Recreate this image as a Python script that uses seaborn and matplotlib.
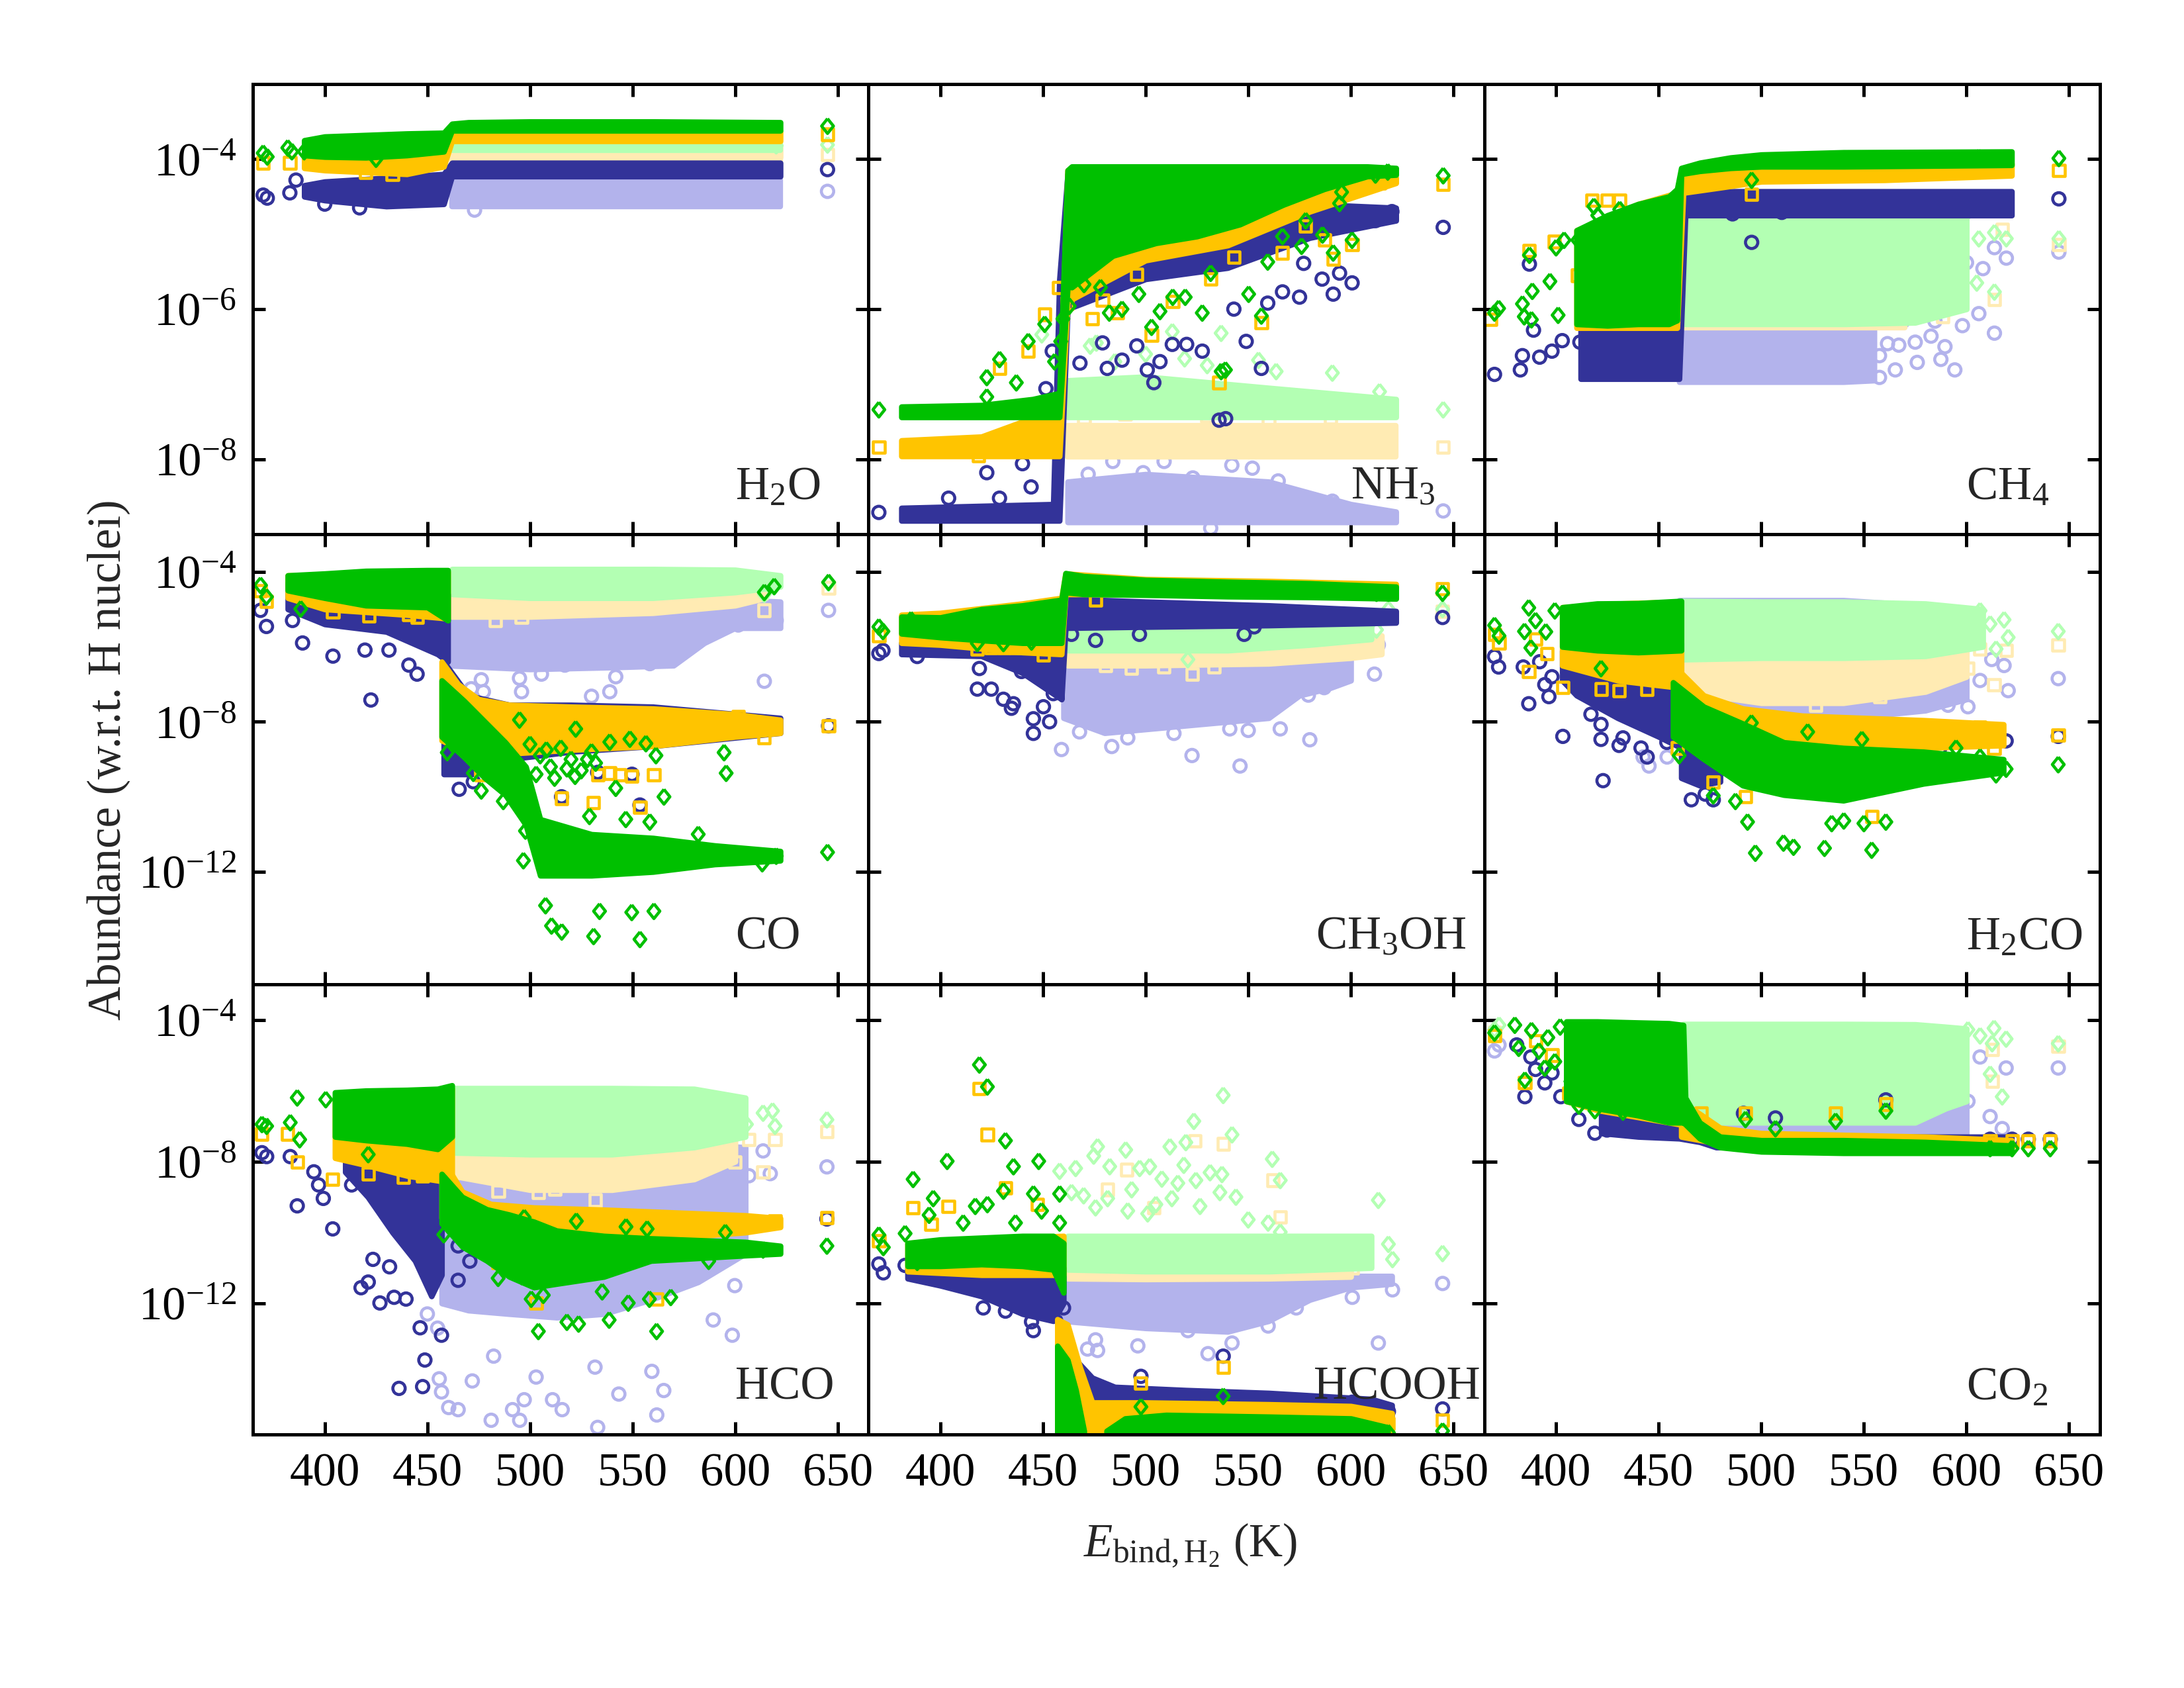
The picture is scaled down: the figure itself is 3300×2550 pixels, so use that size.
import numpy as np
import matplotlib
matplotlib.use("Agg")
import matplotlib.pyplot as plt
import matplotlib.transforms as mtransforms
from matplotlib.ticker import FixedLocator, NullLocator, FuncFormatter
import seaborn as sns

# all abundances below are log10(abundance), x is E_bind,H2 in K
# series keys: db dark-blue circles, lb light-blue circles, or orange squares,
# lo light-orange squares, gr green diamonds, lg light-green diamonds

h2o_bands = [
    ("lb", [462, 622], [-4.63, -4.63], [-4.28, -4.28]),
    ("lo", [462, 622], [-4.02, -4.02], [-3.88, -3.88]),
    ("lg", [462, 622], [-3.88, -3.88], [-3.76, -3.76]),
    ("db", [390, 400, 430, 458, 462, 622], [-4.5, -4.55, -4.63, -4.6, -4.23, -4.23], [-4.35, -4.3, -4.25, -4.2, -4.05, -4.05]),
    ("or", [390, 400, 440, 458, 462, 622], [-4.12, -4.15, -4.2, -4.1, -3.76, -3.76], [-3.9, -3.85, -3.8, -3.75, -3.63, -3.63]),
    ("gr", [390, 400, 420, 440, 458, 462, 470, 500, 560, 622], [-3.95, -3.97, -3.98, -3.95, -3.9, -3.62, -3.62, -3.62, -3.62, -3.62],
     [-3.75, -3.7, -3.68, -3.66, -3.65, -3.53, -3.51, -3.5, -3.5, -3.51]),
]
h2o_pts = {
    "db": ([370, 372, 383, 386, 400, 417, 645], [-4.48, -4.52, -4.45, -4.28, -4.6, -4.65, -4.14]),
    "lb": ([610, 618, 600, 473, 645], [-4.2, -4.35, -4.22, -4.68, -4.43]),
    "lo": ([620, 645], [-3.9, -3.94]),
    "lg": ([620, 645], [-3.82, -3.81]),
    "or": ([370, 383, 420, 433, 645], [-4.05, -4.05, -4.18, -4.2, -3.67]),
    "gr": ([370, 372, 382, 384, 390, 425, 645], [-3.92, -3.97, -3.85, -3.9, -3.9, -4.0, -3.56]),
}

nh3_bands = [
    ("lb", [462, 500, 560, 600, 622], [-8.84] * 5, [-8.3, -8.2, -8.3, -8.6, -8.7]),
    ("lo", [462, 622], [-7.97, -7.97], [-7.55, -7.55]),
    ("lg", [462, 500, 560, 622], [-7.44] * 4, [-6.95, -6.9, -7.05, -7.2]),
    ("db", [381, 455, 458, 462, 500, 540, 580, 622], [-8.82, -8.82, -8.82, -6.0, -5.6, -5.45, -5.05, -4.82],
     [-8.65, -8.6, -5.6, -4.2, -4.2, -4.3, -4.6, -4.65]),
    ("or", [381, 420, 440, 458, 462, 500, 540, 580, 622], [-7.96, -7.96, -7.96, -7.96, -5.9, -5.35, -5.15, -4.7, -4.32],
     [-7.75, -7.7, -7.5, -7.4, -4.15, -4.15, -4.15, -4.2, -4.25]),
    ("gr", [381, 420, 445, 458, 462, 464, 484, 505, 525, 546, 567, 587, 608, 622],
     [-7.44, -7.44, -7.44, -7.44, -5.7, -5.71, -5.29, -5.12, -5.03, -4.87, -4.61, -4.4, -4.23, -4.21],
     [-7.3, -7.28, -7.2, -7.12, -4.15, -4.1, -4.1, -4.1, -4.1, -4.1, -4.1, -4.1, -4.1, -4.12]),
]
nh3_pts = {
    "gr": ([370, 422.6, 422.6, 428.8, 437, 442.8, 450.8, 455.6, 458.6, 459.7, 462.8, 470, 478, 482.3, 488.5, 496.7, 502.9, 507,
            513.2, 519.3, 527.6, 531.7, 536.8, 538.9, 550.2, 556.4, 559.5, 566.7, 576, 578, 586.2, 591.4, 594.5, 595.5, 600.6,
            612, 618, 645],
           [-7.34, -7.17, -6.91, -6.67, -6.98, -6.43, -6.2, -6.7, -6.43, -6.13, -5.96, -5.67, -5.71, -6.05, -6.0, -5.8, -6.24,
            -6.03, -5.84, -5.84, -6.05, -5.52, -6.83, -6.81, -5.8, -6.09, -5.37, -5.03, -5.16, -4.82, -5.01, -5.25, -4.59,
            -4.44, -5.08, -4.21, -4.17, -4.22]),
    "or": ([370, 418.5, 428.8, 442.8, 450.8, 457.6, 461.7, 474, 479, 486.4, 495.7, 502.9, 513.2, 531.7, 535.8, 543, 556.4,
            566.7, 578, 587.2, 591.4, 600.6, 614, 645],
           [-7.84, -7.95, -6.79, -6.56, -6.07, -5.71, -5.92, -6.13, -5.88, -6.05, -5.54, -6.35, -5.9, -5.6, -6.98, -5.31,
            -6.18, -5.25, -4.89, -5.08, -5.33, -5.14, -4.32, -4.34]),
    "db": ([370, 404, 422.6, 428.8, 440, 444.2, 451.4, 454.5, 468, 479, 481.3, 488.5, 495.7, 500.8, 504, 507, 513, 520, 527.6,
            535.8, 539, 543, 549, 556.4, 559.5, 566.7, 575, 577, 586, 591.4, 594.5, 600.6, 612, 620, 645],
           [-8.71, -8.52, -8.18, -8.52, -8.06, -8.37, -7.06, -6.56, -6.72, -6.45, -6.79, -6.68, -6.49, -6.81, -6.98, -6.7,
            -6.47, -6.47, -6.56, -7.48, -7.46, -6.0, -6.43, -6.79, -5.92, -5.77, -5.84, -5.39, -5.6, -5.8, -5.52, -5.65,
            -4.82, -4.7, -4.91]),
    "lg": ([449.4, 473, 476, 513, 519, 536.8, 555, 563.6, 591, 614, 645, 485, 500, 530],
           [-6.34, -6.49, -6.45, -6.3, -6.66, -6.32, -6.68, -6.83, -6.85, -7.1, -7.34, -6.7, -6.6, -6.75]),
    "lo": ([645, 470, 490, 530, 560, 590], [-7.84, -7.45, -7.4, -7.42, -7.5, -7.45]),
    "lb": ([472, 484, 498.8, 509, 523, 531.7, 542, 552, 564.6, 582, 591, 645],
           [-8.2, -8.03, -8.18, -8.03, -8.25, -8.92, -8.08, -8.12, -8.29, -8.54, -8.56, -8.69]),
}

ch4_bands = [
    ("lb", [460, 500, 540, 555], [-6.97, -6.97, -6.97, -6.95], [-6.22] * 4),
    ("lo", [462, 570], [-6.25, -6.25], [-4.75, -4.75]),
    ("lg", [462, 500, 540, 575, 600], [-6.2, -6.2, -6.2, -6.18, -6.0], [-4.72, -4.72, -4.72, -4.72, -4.8]),
    ("db", [412, 440, 457, 460, 463, 622], [-6.93, -6.93, -6.93, -6.93, -4.75, -4.75], [-6.2, -6.2, -6.2, -4.5, -4.43, -4.43]),
    ("or", [410, 440, 459, 462, 480, 500, 560, 622], [-6.25, -6.25, -6.25, -4.45, -4.38, -4.3, -4.28, -4.22],
     [-4.95, -4.6, -4.45, -4.2, -4.12, -4.1, -4.08, -4.06]),
    ("gr", [410, 425, 440, 455, 459, 461, 470, 485, 500, 540, 622],
     [-6.2, -6.22, -6.2, -6.2, -6.15, -4.2, -4.16, -4.12, -4.1, -4.1, -4.08],
     [-4.95, -4.75, -4.6, -4.5, -4.4, -4.12, -4.05, -3.98, -3.94, -3.91, -3.9]),
]
ch4_pts = {
    "gr": ([370, 372, 383.6, 387, 388.4, 384.5, 397, 400, 403.9, 410.6, 415.5, 418.4, 420.3, 431, 388, 401, 495.3, 606,
            619.4, 645],
           [-6.05, -5.99, -5.93, -5.28, -5.76, -6.1, -5.63, -5.18, -5.08, -5.08, -5.0, -4.63, -4.75, -4.67, -6.14, -6.08,
            -4.28, -3.98, -3.99, -3.99]),
    "or": ([368, 387, 399, 417.4, 425, 431, 410.6, 495.3, 645], [-6.14, -5.22, -5.1, -4.55, -4.55, -4.55, -5.55, -4.47, -4.15]),
    "db": ([370, 382.6, 383.6, 389, 392, 398, 403, 411.6, 387, 495.3, 486, 510, 645, 619.4],
           [-6.87, -6.81, -6.62, -6.28, -6.64, -6.56, -6.42, -6.44, -5.4, -5.11, -4.73, -4.71, -4.53, -4.51]),
    "lg": ([613.6, 619.4, 606, 605, 613.6, 596, 588.5, 611.7, 601, 645, 569, 577],
           [-4.98, -5.06, -5.06, -5.65, -5.77, -5.69, -5.97, -4.67, -4.69, -5.06, -5.85, -6.08]),
    "lo": ([613.6, 617.5, 588.5, 645], [-5.87, -4.94, -6.1, -5.14]),
    "lb": ([557.6, 561.5, 565.3, 575, 576, 584.6, 589.5, 587.5, 594.3, 598, 606, 613.6, 613.6, 619.4, 645, 557.6, 567, 582.7,
            569, 573, 600, 608],
           [-6.62, -6.46, -6.81, -6.44, -6.71, -6.16, -6.5, -6.67, -6.81, -6.22, -6.06, -6.32, -5.18, -5.32, -5.24, -6.91,
            -6.48, -6.36, -6.16, -5.97, -5.38, -5.46]),
}

co_bands = [
    ("lb", [460, 500, 540, 570, 585, 600, 622], [-6.5, -6.6, -6.55, -6.5, -5.9, -5.5, -5.5], [-4.9, -5.0, -5.0, -4.9, -4.8, -4.75, -4.8]),
    ("lo", [462, 500, 560, 600, 615], [-5.2, -5.2, -5.1, -4.9, -4.7], [-4.6, -4.7, -4.7, -4.55, -4.4]),
    ("lg", [462, 500, 560, 600, 622], [-4.6, -4.7, -4.7, -4.55, -4.4], [-3.93, -3.93, -3.93, -3.95, -4.1]),
    ("db", [382, 400, 430, 455, 460], [-5.0, -5.4, -5.6, -6.2, -6.4], [-4.3, -4.4, -4.5, -4.6, -4.6]),
    ("db", [458, 470, 490, 520, 560, 622], [-9.4, -9.4, -9.0, -8.8, -8.65, -8.3], [-6.4, -7.3, -7.55, -7.55, -7.6, -7.9]),
    ("or", [382, 400, 440, 460], [-4.7, -5.0, -5.15, -5.25], [-4.1, -4.1, -4.0, -4.0]),
    ("or", [457, 465, 475, 490, 520, 560, 600, 622], [-8.5, -8.7, -8.8, -8.85, -8.75, -8.65, -8.4, -8.3],
     [-6.4, -7.0, -7.4, -7.55, -7.6, -7.65, -7.8, -7.95]),
    ("gr", [382, 400, 420, 450, 460], [-4.5, -4.7, -4.9, -4.95, -5.3], [-4.1, -4.05, -3.98, -3.96, -3.96]),
    ("gr", [457, 468, 478, 488, 498, 505, 530, 560, 590, 622], [-8.4, -8.95, -9.5, -9.95, -10.75, -12.1, -12.1, -12.0, -11.8, -11.7],
     [-6.9, -7.45, -8.0, -8.55, -9.2, -10.6, -11.0, -11.1, -11.3, -11.45]),
]
co_pts = {
    "gr": ([368.7, 371.6, 388.3, 494.9, 459.7, 472.4, 476.3, 487, 497.8, 496.8, 522.3, 538.9, 548.7, 556.5, 561.4, 541.8, 565.3,
            594.6, 595.6, 510.5, 515.5, 531, 553.6, 507.6, 533.9, 549.6, 560.4, 529, 546.7, 558.4, 582, 613.2, 620, 645,
            645.5, 619, 614.2, 500, 505, 510, 515, 520, 525, 530, 503, 512, 522, 532, 508, 518, 528],
           [-4.36, -4.67, -4.99, -7.95, -8.82, -9.37, -9.84, -10.12, -10.91, -11.7, -8.19, -8.54, -8.46, -8.58, -8.9, -9.77,
            -10.0, -8.82, -9.37, -13.44, -13.6, -13.72, -13.8, -12.9, -13.05, -13.08, -13.05, -10.52, -10.6, -10.67, -11.0,
            -11.78, -11.58, -11.48, -4.28, -4.39, -4.55, -8.6, -8.9, -9.2, -8.7, -9.0, -9.3, -8.8, -9.4, -9.5, -9.45, -9.1,
            -8.75, -9.25, -9.0]),
    "or": ([368.7, 404, 421.5, 441, 445, 371.6, 645.5, 614.2, 601.5, 533, 538.9, 543.8, 549.7, 560.4, 515.4, 531, 553.6, 476, 494],
           [-4.51, -5.07, -5.18, -5.15, -5.22, -4.79, -8.11, -8.42, -7.87, -9.41, -9.37, -9.41, -9.45, -9.41, -10.04, -10.16,
            -10.28, -9.41, -9.8]),
    "db": ([368.7, 371.6, 389.2, 404, 422.5, 419.6, 431.3, 441, 445, 384.3, 465.5, 472.4, 645.5, 533, 549.7, 515.4, 553.6],
           [-5.03, -5.46, -5.9, -6.25, -7.42, -6.09, -6.09, -6.49, -6.73, -5.3, -9.8, -9.6, -8.11, -9.35, -9.4, -10.0, -10.22]),
    "lg": ([645.5, 619, 614.2], [-4.3, -4.4, -4.6]),
    "lo": ([483.1, 495.9, 614.2, 645.5], [-5.3, -5.22, -5.03, -4.43]),
    "lb": ([471.4, 476.3, 477.3, 495.9, 530, 538.9, 541.8, 494.9, 614.2, 645.5, 620, 601.5, 572, 517, 505.6, 558.4],
           [-7.12, -6.88, -7.2, -7.2, -7.32, -7.2, -6.8, -6.84, -6.92, -5.03, -5.3, -5.42, -5.86, -6.49, -6.73, -6.45]),
}

ch3oh_bands = [
    ("lb", [460, 480, 500, 540, 560, 575, 590, 600], [-7.9, -8.3, -8.2, -8.0, -7.9, -7.3, -7.1, -6.9],
     [-6.2, -6.2, -6.2, -6.2, -6.1, -6.0, -5.9, -5.85]),
    ("lo", [462, 500, 560, 600, 615], [-6.5, -6.5, -6.45, -6.3, -6.2], [-5.9, -5.9, -5.9, -5.8, -5.7]),
    ("lg", [462, 500, 540, 580, 610], [-6.1, -6.1, -6.1, -5.95, -5.8], [-5.45, -5.45, -5.45, -5.4, -5.35]),
    ("db", [381, 420, 440, 459], [-6.2, -6.25, -6.7, -7.4], [-5.9, -5.9, -5.9, -5.85]),
    ("db", [459, 461, 500, 560, 622], [-7.4, -5.5, -5.47, -5.43, -5.36], [-5.0, -4.72, -4.8, -4.9, -5.05]),
    ("or", [381, 400, 440, 459, 461, 500, 560, 622], [-5.9, -5.95, -6.15, -6.2, -4.6, -4.6, -4.65, -4.7],
     [-5.15, -5.1, -4.85, -4.7, -4.05, -4.2, -4.25, -4.33]),
    ("gr", [381, 400, 420, 440, 459, 461, 470, 500, 540, 580, 622],
     [-5.65, -5.75, -5.83, -5.9, -5.9, -4.55, -4.6, -4.62, -4.66, -4.68, -4.72],
     [-5.2, -5.22, -5.0, -4.9, -4.75, -4.04, -4.12, -4.22, -4.27, -4.31, -4.4]),
]
ch3oh_pts = {
    "gr": ([370, 372, 385.7, 418, 430.7, 444.4, 644.7, 612.5, 618.3], [-5.47, -5.59, -5.28, -5.91, -5.91, -5.87, -4.57, -4.57, -4.57]),
    "or": ([370, 418, 424.8, 430.7, 436.5, 450.2, 644.7, 475.6], [-5.71, -6.06, -6.02, -6.02, -6.02, -6.22, -4.45, -4.76]),
    "db": ([370, 372, 388.7, 419, 418, 424.8, 430.7, 435.6, 434.6, 439.5, 445.3, 445.3, 450.2, 453.2, 455, 475.6, 497, 548,
            552.9, 644.7, 463.9],
           [-6.18, -6.1, -6.26, -6.58, -7.13, -7.13, -7.4, -7.52, -7.64, -6.66, -7.92, -8.31, -7.6, -8.0, -7.25, -5.83, -5.67,
            -5.67, -5.47, -5.22, -5.67]),
    "lg": ([618.3, 612.5, 520.6, 644.7], [-5.0, -5.55, -6.34, -5.0]),
    "lo": ([480.5, 493, 508.9, 522.6, 533.3, 612.5, 644.7], [-6.5, -6.58, -6.54, -6.73, -6.54, -5.87, -5.05]),
    "lb": ([459, 483.5, 522.6, 546, 580, 565.6, 550, 541, 579.3, 587, 592, 611.5, 613.4, 467.8, 491.3, 513.8],
           [-8.74, -8.66, -8.9, -9.18, -8.48, -8.19, -8.23, -8.19, -7.29, -7.09, -6.66, -6.73, -5.95, -8.27, -8.43, -8.31]),
}

h2co_bands = [
    ("lb", [460, 500, 540, 580, 600], [-8.0, -7.95, -7.92, -7.7, -7.4], [-4.76, -4.76, -4.76, -4.9, -5.2]),
    ("lo", [462, 500, 540, 580, 600], [-7.2, -7.5, -7.5, -7.2, -6.8], [-6.2, -6.3, -6.3, -6.2, -6.0]),
    ("lg", [462, 500, 540, 580, 608], [-6.34, -6.3, -6.3, -6.25, -6.0], [-4.78, -4.8, -4.8, -4.85, -5.0]),
    ("db", [403, 410, 430, 450, 461], [-6.9, -7.3, -7.9, -8.4, -8.7], [-6.1, -6.2, -6.3, -6.5, -5.9]),
    ("db", [461, 470, 480], [-9.5, -9.7, -9.6], [-8.3, -8.4, -8.5]),
    ("or", [403, 430, 461], [-6.5, -6.9, -7.1], [-4.95, -4.85, -4.8]),
    ("or", [461, 472, 491, 520, 579, 618], [-8.4, -8.5, -8.55, -8.7, -8.7, -8.63], [-6.7, -7.3, -7.65, -7.84, -7.96, -8.07]),
    ("gr", [403, 420, 440, 461], [-6.0, -6.1, -6.15, -6.1], [-4.95, -4.85, -4.84, -4.78]),
    ("gr", [457, 472, 491, 511, 540, 579, 618], [-8.4, -9.0, -9.7, -9.95, -10.1, -9.65, -9.35], [-6.95, -7.6, -8.05, -8.55, -8.7, -8.8, -9.0]),
]
h2co_pts = {
    "gr": ([370, 372.2, 386.7, 384.6, 399.4, 387.7, 421.9, 460, 476.6, 487.4, 493.3, 497.1, 510.8, 515.7, 530.8, 553.8, 534.3,
            540.2, 550, 560.7, 495.2, 522.6, 549, 594.9, 606.6, 614.4, 619.3, 644.7, 390, 395],
           [-5.43, -5.71, -4.96, -5.59, -5.04, -6.03, -6.58, -8.9, -9.97, -10.12, -10.67, -11.5, -11.23, -11.34, -11.37, -11.42,
            -10.71, -10.64, -10.71, -10.67, -8.03, -8.27, -8.47, -8.7, -8.94, -9.41, -9.26, -9.14, -5.3, -5.6]),
    "or": ([370, 372.2, 386.7, 403.3, 421.9, 430.7, 444.4, 395.5, 644.7, 613.4, 606.6, 476.6, 492.3, 553.8, 459, 390],
           [-5.67, -5.91, -6.66, -7.09, -7.13, -7.17, -7.13, -6.18, -8.35, -8.7, -8.15, -9.61, -10.0, -10.52, -8.7, -5.8]),
    "db": ([465.9, 472.7, 476.6, 370, 372, 384, 386.7, 394.5, 396.5, 403.3, 417, 421.9, 421.9, 422.9, 430.7, 432.6, 441.4,
            444.4, 454, 619.3, 644.7, 587, 392, 398],
           [-10.08, -9.93, -10.08, -6.26, -6.54, -6.54, -7.52, -7.01, -7.33, -8.39, -7.8, -8.07, -8.47, -9.57, -8.63, -8.43,
            -8.7, -8.94, -8.55, -8.51, -8.39, -8.7, -6.4, -6.8]),
    "lg": ([618.3, 620.3, 611.5, 606.6, 614.4, 644.7], [-5.28, -5.75, -5.39, -5.04, -6.06, -5.59]),
    "lo": ([526.5, 531.4, 557.7, 600.7, 606.6, 613.4, 619.3, 644.7, 591], [-7.56, -7.36, -7.33, -6.58, -6.06, -7.01, -6.1, -5.95, -6.42]),
    "lb": ([591, 600.7, 612.3, 618.3, 620.3, 606.6, 644.7, 442.4, 454.1, 445.3],
           [-7.56, -7.6, -6.34, -6.5, -7.17, -6.9, -6.85, -8.94, -8.94, -9.18]),
}

hco_bands = [
    ("lb", [457, 470, 490, 513, 536, 559, 582, 605], [-12.0, -12.2, -12.3, -12.4, -12.3, -11.9, -11.4, -10.6],
     [-7.5, -7.5, -7.5, -7.5, -7.5, -7.5, -7.5, -7.6]),
    ("lo", [462, 500, 540, 580, 600], [-8.4, -8.8, -8.8, -8.5, -8.0], [-7.5, -7.6, -7.6, -7.4, -7.1]),
    ("lg", [462, 500, 540, 580, 605], [-7.75, -7.8, -7.8, -7.6, -7.3], [-5.93, -5.93, -5.93, -5.95, -6.2]),
    ("db", [410, 421, 433, 444, 452, 457], [-8.3, -9.0, -10.0, -10.8, -11.8, -11.2], [-7.5, -7.5, -7.45, -7.4, -7.3, -6.5]),
    ("or", [405, 420, 440, 462], [-7.9, -8.1, -8.4, -8.6], [-6.3, -6.1, -6.0, -5.95]),
    ("or", [457, 467, 481, 502, 536, 605, 622], [-9.6, -10.1, -10.3, -10.38, -10.3, -10.0, -9.85],
     [-7.9, -8.85, -9.2, -9.3, -9.36, -9.52, -9.6]),
    ("gr", [405, 420, 440, 455, 462], [-7.3, -7.4, -7.5, -7.65, -7.3], [-6.05, -6.0, -5.98, -5.95, -5.85]),
    ("gr", [457, 467, 479, 490, 502, 513, 536, 559, 605, 622],
     [-9.75, -10.4, -10.8, -11.25, -11.55, -11.45, -11.25, -10.8, -10.65, -10.6],
     [-8.35, -9.0, -9.35, -9.5, -9.7, -9.95, -10.1, -10.17, -10.27, -10.38]),
]
hco_pts = {
    "gr": ([369.4, 371.7, 386.6, 383.2, 387.8, 400.5, 421.2, 497.2, 522.6, 546.8, 557.1, 595.2, 644.7, 613.6, 587.1, 484.5,
            496, 500.6, 504.1, 518, 523.7, 538.6, 561.7, 568.6, 558.2, 547.9, 535.2, 506.5, 458],
           [-6.95, -7.0, -6.2, -6.9, -7.38, -6.25, -7.8, -9.58, -9.68, -9.84, -9.9, -10.0, -10.38, -10.49, -10.81, -11.29,
            -11.24, -11.88, -12.79, -12.53, -12.58, -12.47, -12.79, -11.83, -11.88, -11.99, -11.67, -11.77, -10.06]),
    "or": ([369.4, 386.6, 382, 403.9, 421.2, 438.4, 447.6, 644.7, 619.4, 484.5, 503, 561.7, 586],
           [-7.22, -8.02, -7.22, -8.5, -8.34, -8.45, -8.4, -9.58, -9.68, -10.86, -11.99, -11.88, -9.9]),
    "db": ([369.4, 371.7, 383.2, 386.6, 394.7, 397, 399.3, 403.9, 413.1, 417.7, 421.2, 426.9, 433.8, 439.6, 446.5, 448.8,
            436.2, 447.7, 456.9, 423.5, 431.6, 465, 470.7, 465, 644.7],
           [-7.75, -7.86, -7.86, -9.25, -8.29, -8.66, -9.04, -9.9, -8.66, -11.56, -11.4, -11.99, -11.83, -11.88, -12.69, -13.6,
            -14.4, -14.35, -12.9, -10.76, -10.97, -10.38, -10.81, -11.35, -9.62]),
    "lg": ([582.5, 605.5, 613.6, 618.2, 619.4, 644.7], [-6.2, -6.95, -6.63, -6.57, -7.0, -6.82]),
    "lo": ([484.6, 504.1, 512.2, 531.8, 561.8, 599.8, 606.7, 619.4, 644.7, 613.6],
           [-8.83, -8.88, -8.77, -9.09, -8.45, -8.02, -7.38, -7.38, -7.16, -8.29]),
    "lb": ([456.9, 460.4, 465, 481.1, 491.5, 495, 497.2, 503, 511, 515.7, 533, 543.3, 561.8, 565.2, 559.4, 531.7, 482.3,
            471.9, 455.8, 598.6, 589.3, 599.8, 606.7, 617.1, 644.7, 613.6, 450, 455],
           [-14.5, -14.94, -15.0, -15.3, -15.0, -15.3, -14.72, -14.08, -14.72, -15.0, -15.5, -14.56, -15.15, -14.46, -13.92,
            -13.8, -13.49, -14.19, -14.13, -12.9, -12.47, -11.5, -8.4, -8.34, -8.15, -7.7, -12.3, -12.7]),
}

hcooh_bands = [
    ("lb", [460, 500, 540, 560, 580, 600, 620], [-12.5, -12.7, -12.8, -12.5, -11.9, -11.55, -11.45], [-11.23] * 7),
    ("lo", [462, 500, 560, 600], [-11.3, -11.32, -11.3, -11.25], [-10.85, -10.85, -10.85, -10.9]),
    ("lg", [462, 500, 560, 610], [-11.05, -11.1, -11.1, -11.0], [-10.1] * 4),
    ("db", [384, 400, 420, 440, 455, 460], [-11.3, -11.5, -11.8, -12.3, -12.5, -12.0], [-11.0, -11.05, -11.1, -11.1, -11.1, -11.0]),
    ("db", [458, 466, 474, 485, 520, 560, 610, 620], [-15.8] * 8, [-12.4, -13.6, -14.1, -14.36, -14.45, -14.53, -14.7, -14.87]),
    ("or", [384, 420, 460], [-11.1, -11.2, -11.2], [-10.3, -10.2, -10.1]),
    ("or", [457, 462, 468, 474, 500, 560, 600, 620], [-15.8] * 8, [-12.45, -12.6, -13.8, -14.8, -14.8, -14.85, -14.9, -15.1]),
    ("gr", [384, 400, 420, 440, 455, 460], [-10.95, -10.95, -10.9, -10.95, -11.05, -11.7], [-10.3, -10.2, -10.15, -10.1, -10.1, -10.3]),
    ("gr", [457, 462, 466, 470], [-15.8] * 4, [-13.2, -13.6, -14.45, -15.6]),
    ("gr", [481, 490, 510, 560, 600, 618], [-15.8] * 6, [-15.6, -15.25, -15.15, -15.2, -15.25, -15.5]),
]
hcooh_pts = {
    "gr": ([370, 372.2, 382.8, 386.7, 396.5, 394.5, 388.7, 403.3, 419, 422.9, 431.7, 435.6, 447.9, 430.7, 445.3, 458.1, 417,
            422.9, 449.3, 458.1, 411.1, 436.6, 459.6, 497.7, 537.8, 644.7, 618.3],
           [-10.07, -10.42, -10.03, -8.5, -9.04, -9.51, -10.84, -7.99, -5.27, -5.89, -7.41, -8.14, -7.99, -8.83, -8.91, -8.91,
            -9.26, -9.21, -9.39, -9.73, -9.73, -9.73, -15.05, -14.92, -14.62, -15.6, -15.65]),
    "or": ([370, 386.7, 403.9, 419, 422.9, 431.7, 421.9, 447.3, 395.5, 497.7, 537.8, 644.7, 618.3, 612.5],
           [-10.24, -9.3, -9.26, -5.94, -7.24, -8.74, -11.06, -9.21, -9.77, -14.26, -13.8, -15.3, -15.39, -15.35]),
    "db": ([370, 372.2, 382.8, 395.5, 420.9, 431.7, 444.4, 445.3, 460, 497.7, 537.8, 644.7, 618.3, 612.5, 600.7],
           [-10.89, -11.14, -10.93, -10.93, -12.13, -12.22, -12.52, -12.77, -12.13, -14.06, -13.49, -14.98, -15.05, -15.0, -14.79]),
    "lg": ([458.1, 465.9, 474.7, 476.6, 482.5, 490.3, 497.1, 502, 507.9, 511.8, 518.6, 519.6, 523.5, 531.4, 537.2, 537.8,
            542.1, 544, 561.7, 565.6, 613.4, 618.3, 620.3, 644.7, 463.9, 469.8, 481.5, 493.2, 501, 512.8, 526.5, 536.2, 550,
            559.7, 565.6, 515.7, 524.5, 505, 491.3, 475.6],
           [-8.27, -8.19, -7.84, -7.58, -8.14, -7.67, -8.19, -8.14, -8.49, -7.58, -8.1, -7.46, -6.86, -8.31, -8.36, -6.13, -7.24,
            -9.0, -7.93, -8.53, -9.09, -10.33, -10.76, -10.59, -8.87, -8.96, -9.04, -8.79, -9.47, -9.04, -9.26, -8.87, -9.64,
            -9.73, -9.99, -8.61, -8.53, -9.21, -9.39, -9.3]),
    "lo": ([524.1, 537.8, 490.9, 481.5, 562, 565.6, 600.7, 504], [-7.41, -7.5, -8.23, -8.79, -8.53, -9.56, -11.0, -9.3]),
    "lb": ([471.7, 476.6, 475.6, 496.2, 530.4, 542.1, 520.6, 573.4, 613.4, 600.7, 620.3, 644.7, 559.7],
           [-13.29, -13.33, -13.03, -13.2, -13.42, -13.12, -12.77, -12.13, -13.12, -11.83, -11.62, -11.44, -12.64]),
}

co2_bands = [
    ("lb", [462, 500, 540, 570, 600], [-7.3, -7.3, -7.3, -7.3, -7.3], [-4.5, -4.5, -4.5, -4.6, -5.3]),
    ("lg", [462, 500, 540, 575, 590, 600], [-6.9, -6.9, -6.9, -6.9, -6.5, -6.3], [-4.12, -4.12, -4.12, -4.13, -4.2, -4.25]),
    ("db", [422, 440, 460, 470, 478, 500, 622], [-7.2, -7.3, -7.35, -7.45, -7.6, -7.6, -7.6], [-6.5, -6.7, -7.0, -7.2, -7.4, -7.3, -7.3]),
    ("or", [405, 420, 440, 460], [-6.3, -6.55, -6.75, -6.95], [-4.1, -4.1, -4.1, -4.15]),
    ("or", [461, 480, 500, 540, 580, 622], [-7.3, -7.5, -7.62, -7.65, -7.65, -7.65], [-6.3, -7.05, -7.2, -7.25, -7.3, -7.4]),
    ("gr", [405, 420, 440, 455, 462, 463, 470, 480, 500, 540, 580, 622],
     [-6.3, -6.5, -6.7, -6.9, -6.9, -6.95, -7.35, -7.6, -7.72, -7.76, -7.76, -7.76],
     [-4.05, -4.05, -4.08, -4.1, -4.15, -6.2, -6.9, -7.3, -7.4, -7.4, -7.45, -7.55]),
]
co2_pts = {
    "gr": ([370, 379.9, 381.8, 384.8, 391.6, 394.5, 399.4, 407.2, 411.1, 418.9, 432.6, 492.3, 506.9, 536.2, 560.7, 611.5, 622.2,
            630.1, 640.8, 388, 396, 402],
           [-4.37, -4.15, -4.8, -5.7, -4.88, -5.36, -5.18, -5.74, -6.43, -6.56, -6.6, -6.81, -7.07, -6.86, -6.57, -7.63, -7.63,
            -7.63, -7.63, -4.3, -4.5, -4.2]),
    "or": ([611.5, 622.2, 630.1, 640.8, 470.8, 492.3, 536.2, 560.7, 384.8, 406.3, 370, 390, 398],
           [-7.41, -7.41, -7.41, -7.41, -6.64, -6.64, -6.64, -6.38, -5.78, -6.08, -4.45, -4.6, -5.0]),
    "db": ([380.8, 384.8, 394.5, 402.3, 411.1, 418.9, 424.8, 491.3, 506.9, 560.7, 611.5, 622.2, 630.1, 640.8, 387.7, 390, 398],
           [-4.71, -6.17, -5.78, -6.17, -6.81, -7.2, -7.11, -6.64, -6.77, -6.26, -7.37, -7.37, -7.37, -7.37, -5.05, -5.4, -5.5]),
    "lg": ([600.7, 606.6, 613.4, 619.3, 611.5, 617.4, 612.5, 644.7, 370, 372.2, 594.9, 589, 575.3],
           [-4.28, -4.45, -4.24, -4.54, -5.53, -6.17, -4.67, -4.67, -4.28, -4.15, -5.61, -6.3, -6.47]),
    "lo": ([612.5, 644.7, 612.5, 591, 370], [-4.84, -4.75, -5.73, -5.78, -4.35]),
    "lb": ([606.6, 619.3, 611.5, 617.4, 644.7, 370, 372.2, 600.7, 589, 571.4],
           [-5.05, -5.36, -6.73, -7.07, -5.36, -4.88, -4.71, -6.3, -5.78, -6.98]),
}

species = ["H$_2$O", "NH$_3$", "CH$_4$", "CO", "CH$_3$OH", "H$_2$CO", "HCO", "HCOOH", "CO$_2$"]
species_bands = [h2o_bands, nh3_bands, ch4_bands, co_bands, ch3oh_bands, h2co_bands, hco_bands, hcooh_bands, co2_bands]
species_pts = [h2o_pts, nh3_pts, ch4_pts, co_pts, ch3oh_pts, h2co_pts, hco_pts, hcooh_pts, co2_pts]
label_x = [600, 600, 600, 600, 583, 600, 600, 582, 600]

row_ylim = [(-9, -3), (-15, -3), (-15.7, -3)]
row_yticks = [[-8, -6, -4], [-12, -8, -4], [-12, -8, -4]]
xticks = [400, 450, 500, 550, 600, 650]

# gnuplot-like diamond, a little narrower than tall
diamond = [(0, 1), (0.8, 0), (0, -1), (-0.8, 0), (0, 1)]
colors = {"db": "#333399", "lb": "#b3b3ec", "or": "#ffc400", "lo": "#ffebb3", "gr": "#00c000", "lg": "#b3ffb3"}
markers = {"db": "o", "lb": "o", "or": "s", "lo": "s", "gr": diamond, "lg": diamond}
msize = {"db": 20, "lb": 20, "or": 17, "lo": 17, "gr": 29, "lg": 29}
draw_order = ["lb", "lo", "lg", "db", "or", "gr"]

sns.set_theme(style="ticks")
plt.rcParams["font.family"] = ["Liberation Serif", "DejaVu Serif"]
plt.rcParams["mathtext.fontset"] = "custom"
plt.rcParams["mathtext.rm"] = "Liberation Serif"
plt.rcParams["mathtext.it"] = "Liberation Serif:italic"
plt.rcParams["mathtext.bf"] = "Liberation Serif:bold"
plt.rcParams["axes.linewidth"] = 1.2

fig, axes = plt.subplots(3, 3, figsize=(11, 8.5), dpi=300, sharex=True, sharey="row",
                         gridspec_kw=dict(left=0.1158, right=0.9615, bottom=0.1502, top=0.9502, wspace=0, hspace=0))

for i, ax in enumerate(axes.flat):
    row = i // 3
    ax.set_yscale("log")
    bands = species_bands[i]
    pts = species_pts[i]
    for z, key in enumerate(draw_order):
        for s, xs, lo, hi in bands:
            if s != key:
                continue
            ax.fill_between(xs, np.power(10.0, lo), np.power(10.0, hi), color=colors[key], lw=2.0,
                            joinstyle="round", zorder=z + 1)
        if key in pts:
            xs, ys = pts[key]
            sns.scatterplot(x=xs, y=np.power(10.0, ys), ax=ax, marker=markers[key], s=msize[key],
                            facecolors="none", edgecolor=colors[key], linewidth=1.1, zorder=z + 1.5, legend=False)
    ax.set_xlim(365, 665)
    ax.set_ylim(10.0 ** row_ylim[row][0], 10.0 ** row_ylim[row][1])
    ax.xaxis.set_major_locator(FixedLocator(xticks))
    ax.yaxis.set_major_locator(FixedLocator([10.0 ** t for t in row_yticks[row]]))
    ax.yaxis.set_minor_locator(NullLocator())
    ax.xaxis.set_minor_locator(NullLocator())
    ax.yaxis.set_major_formatter(FuncFormatter(lambda v, p: r"$10^{%d}$" % round(np.log10(v))))
    ax.tick_params(axis="both", which="major", direction="in", top=True, right=True, length=4.5, width=1.2,
                   labelsize=17, colors="black")
    ax.tick_params(axis="x", pad=6.5)
    ax.tick_params(axis="y", pad=6)
    for sp in ax.spines.values():
        sp.set_linewidth(1.2)
        sp.set_color("black")
        sp.set_zorder(12)
    trans = mtransforms.blended_transform_factory(ax.transData, ax.transAxes)
    ax.text(label_x[i], 0.078, species[i], transform=trans, ha="left", va="baseline", fontsize=17, zorder=10)
    ax.set_xlabel("")
    ax.set_ylabel("")

fig.text(0.0497, 0.55, "Abundance (w.r.t. H nuclei)", rotation=90, ha="center", va="center", fontsize=17)
fig.text(0.545, 0.078, r"$E_{\rm bind,H_2}$ (K)", ha="center", va="baseline", fontsize=17)

fig.savefig("out.png", dpi=300)
